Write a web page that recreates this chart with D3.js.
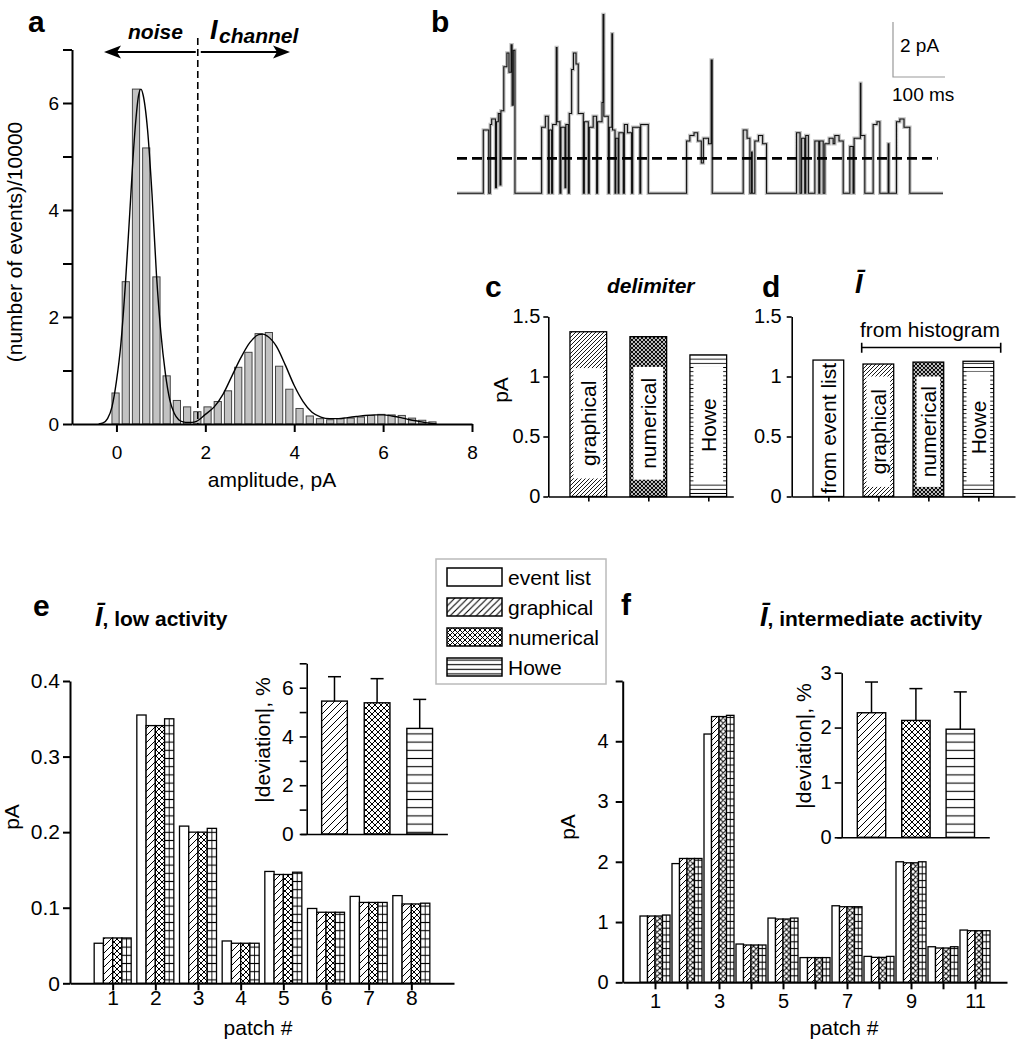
<!DOCTYPE html>
<html><head><meta charset="utf-8">
<script src="https://cdn.jsdelivr.net/npm/d3@7"></script>
<style>body{margin:0;background:#fff} svg{display:block}</style>
</head><body>
<script>
// ================= DATA =================
// panel a : amplitude histogram
const histFirstCenter = -0.02;      // pA, centre of first bin
const histBinWidth = 0.23;          // pA
const histCounts = [0.58,2.66,6.26,5.16,2.75,0.90,0.44,0.32,0.23,0.32,0.42,0.62,1.06,1.34,1.69,1.71,1.08,0.65,0.29,0.15,0.10,0.08,0.10,0.11,0.13,0.16,0.18,0.17,0.16,0.11,0.07,0.04];
const fitAmp = [-0.4,-0.3,-0.2,-0.1,0.0,0.1,0.2,0.3,0.4,0.5,0.55,0.6,0.7,0.8,0.9,1.0,1.1,1.2,1.3,1.4,1.5,1.6,1.7,1.8,2.0,2.2,2.4,2.6,2.8,3.0,3.2,3.3,3.4,3.6,3.8,4.0,4.2,4.4,4.6,4.8,5.0,5.2,5.4,5.6,5.8,6.0,6.2,6.4,6.6,6.8,7.0,7.2];
const fitVal = [0,0.02,0.1,0.32,0.8,1.5,2.6,3.95,5.3,6.15,6.26,6.15,5.5,4.3,2.8,1.7,0.95,0.45,0.2,0.08,0.04,0.03,0.03,0.05,0.18,0.32,0.56,0.9,1.24,1.52,1.67,1.68,1.64,1.45,1.1,0.72,0.42,0.22,0.13,0.1,0.1,0.12,0.14,0.16,0.17,0.17,0.15,0.12,0.08,0.05,0.02,0];
const delimiterA = 1.83;
const aXTicks = [0,2,4,6,8];
const aYTicks = [0,1,2,3,4,5,6,7];

// panel b : current trace, [time ms, current pA] steps
const traceSteps = [[0,0],[50.6,2.3],[61,0],[64,2.5],[66.7,2.7],[74,0.2],[76,2.6],[79.5,2.9],[82.7,0.3],[84.5,3.0],[90,4.6],[96,5.1],[100,4.4],[104,5.4],[106,3.2],[108.3,5.2],[111.5,0],
[162.8,2.4],[170,2.8],[175.6,0],[177.5,2.3],[182,0],[184,2.5],[191,5.3],[192.5,2.6],[198,0],[200,2.4],[207.7,0.2],[209.5,2.5],[214.1,0],[216,2.9],[220.5,4.5],[224,5.1],[229,4.7],[233.3,2.9],[243,0],[245,2.6],[252.6,0],[254.5,2.4],[262,2.8],[268.6,0],[270.5,2.6],[279,3.3],[281,6.5],[282.5,2.8],[291,0],[293,2.4],[298,5.8],[299.3,2.3],[304,0],[305.5,2.0],[310,0],[311.5,2.2],[319.9,0],[322,2.5],[328,2.2],[335.9,0],[338,2.4],[351.9,0],[353.5,2.5],[368,0],
[441.7,1.9],[448,2.1],[456,2.2],[463,1.9],[470,1.1],[474,2.0],[484,1.8],[489,4.85],[491,0],
[550.6,2.3],[558,2.0],[563.5,0],[566.7,1.5],[568,0],[573,1.9],[580,2.1],[588,1.8],[595.5,0],
[653.2,2.2],[660,0],[663,2.0],[669,0],[671,2.1],[676,0],[688.5,1.9],[696,0],[698,1.9],[704.5,0],[707.7,1.8],[716,2.0],[723.7,1.8],[726.9,2.1],[735,1.9],[743,0],[755.8,1.7],[762,0],[764,2.0],[776,4.0],[777,2.1],[784.6,0],[800.6,2.5],[808,2.6],[813.5,0],[829.5,1.8],[831,0],[845.5,2.6],[852,2.7],[860,2.4],[871.2,0],[935,0]];
const traceDelimiter = 1.27;   // pA
const scaleBarPA = 2, scaleBarMS = 100;

// panel c
const cMethods = ["graphical","numerical","Howe"];
const cValues = [1.373,1.332,1.18];
// panel d
const dMethods = ["from event list","graphical","numerical","Howe"];
const dValues = [1.137,1.104,1.12,1.127];
const cdYTicks = [0,0.5,1,1.5];

// legend
const legendLabels = ["event list","graphical","numerical","Howe"];

// panel e : low activity
const ePatches = [1,2,3,4,5,6,7,8];
const eEventList = [0.053,0.355,0.208,0.056,0.148,0.099,0.115,0.116];
const eGraphical = [0.060,0.341,0.200,0.053,0.144,0.094,0.107,0.105];
const eNumerical = [0.060,0.341,0.200,0.053,0.144,0.094,0.107,0.105];
const eHowe      = [0.060,0.350,0.205,0.053,0.147,0.094,0.107,0.106];
const eYTicks = [0,0.1,0.2,0.3,0.4];
const eInsetMean = [5.45,5.38,4.33];
const eInsetSD   = [1.00,0.99,1.19];
const eInsetTicks = [0,1,2,3,4,5,6,7];

// panel f : intermediate activity
const fPatches = [1,2,3,4,5,6,7,8,9,10,11];
const fEventList = [1.10,1.97,4.12,0.635,1.066,0.41,1.27,0.43,2.00,0.59,0.867];
const fGraphical = [1.10,2.055,4.41,0.619,1.05,0.41,1.254,0.414,1.983,0.569,0.856];
const fNumerical = [1.10,2.055,4.41,0.619,1.05,0.41,1.254,0.414,1.983,0.569,0.856];
const fHowe      = [1.116,2.055,4.43,0.619,1.066,0.41,1.254,0.43,2.00,0.59,0.856];
const fYTicks = [0,1,2,3,4,5];
const fXLabels = [1,3,5,7,9,11];
const fInsetMean = [2.27,2.13,1.97];
const fInsetSD   = [0.56,0.58,0.68];
const fInsetTicks = [0,1,2,3];

// ================= DRAWING =================
const FONT = "'Liberation Sans', Arial, Helvetica, sans-serif";
const svg = d3.select("body").append("svg").attr("width",1027).attr("height",1050)
  .style("font-family",FONT);
svg.append("rect").attr("width",1027).attr("height",1050).attr("fill","#fff");
const defs = svg.append("defs");

function pat(id,w,h,d,sw){
  const p = defs.append("pattern").attr("id",id).attr("patternUnits","userSpaceOnUse").attr("width",w).attr("height",h);
  p.append("rect").attr("width",w).attr("height",h).attr("fill","#fff");
  p.append("path").attr("d",d).attr("stroke","#000").attr("stroke-width",sw).attr("fill","none");
}
function diagD(s){return `M${-s/4},${s/4}L${s/4},${-s/4}M0,${s}L${s},0M${s*3/4},${s*5/4}L${s*5/4},${s*3/4}`;}
function antiD(s){return `M${-s/4},${s*3/4}L${s/4},${s*5/4}M0,0L${s},${s}M${s*3/4},${-s/4}L${s*5/4},${s/4}`;}
function diag(id,s,sw){pat(id,s,s,diagD(s),sw);}
function cross(id,s,sw){pat(id,s,s,diagD(s)+antiD(s),sw);}
function horiz(id,s,sw){pat(id,10,s,`M0,${s/2}H10`,sw);}
diag("dg7",7,1); cross("cr6",6,1); horiz("hz8",8.2,1.1);
diag("dg6",6,1); cross("cr5",5.5,1); horiz("hz7",6.8,1.1);
diag("dg4",4,0.9); cross("cr3",4,1.05); horiz("hz4",4.2,0.9);
diag("dgL",6.5,1.1); cross("crL",5,1); horiz("hzL",4.6,1.1);

function styleAxis(g,fs,sw){
  g.attr("font-family",FONT).attr("font-size",fs);
  g.select(".domain").attr("stroke","#000").attr("stroke-width",sw);
  g.selectAll(".tick line").attr("stroke","#000").attr("stroke-width",sw);
  g.selectAll(".tick text").attr("fill","#000");
}
function txt(x,y,s,fs,opt={}){
  const t = svg.append("text").attr("x",x).attr("y",y).attr("font-size",fs).attr("fill","#000").text(s);
  if(opt.bold) t.attr("font-weight","bold");
  if(opt.italic) t.attr("font-style","italic");
  if(opt.anchor) t.attr("text-anchor",opt.anchor);
  return t;
}
function vtxt(x,y,s,fs){
  return svg.append("text").attr("transform",`translate(${x},${y}) rotate(-90)`).attr("text-anchor","middle")
    .attr("font-size",fs).attr("fill","#000").text(s);
}

// ---------- panel a ----------
const xA = d3.scaleLinear().domain([-1,8]).range([72,472]);
const yA = d3.scaleLinear().domain([0,7]).range([424,49.5]);
const gA = svg.append("g");
gA.selectAll("rect").data(histCounts).join("rect")
  .attr("x",(d,i)=>xA(histFirstCenter+i*histBinWidth)-3.6).attr("width",7.2)
  .attr("y",d=>yA(d)).attr("height",d=>yA(0)-yA(d))
  .attr("fill","#c2c2c2").attr("stroke","#444").attr("stroke-width",1);
gA.append("path").datum(fitAmp.map((a,i)=>[a,fitVal[i]]))
  .attr("d",d3.line().x(d=>xA(d[0])).y(d=>yA(d[1])).curve(d3.curveMonotoneX))
  .attr("fill","none").attr("stroke","#000").attr("stroke-width",1.4);
gA.append("line").attr("x1",xA(delimiterA)).attr("x2",xA(delimiterA)).attr("y1",38).attr("y2",yA(0))
  .attr("stroke","#000").attr("stroke-width",1.6).attr("stroke-dasharray","7,4");
const axAy = svg.append("g").attr("transform","translate(72,0)")
  .call(d3.axisLeft(yA).tickValues(aYTicks).tickFormat(d=>d%2?"":d).tickSize(9).tickSizeOuter(0).tickPadding(4));
styleAxis(axAy,19,2);
const axAx = svg.append("g").attr("transform",`translate(0,${yA(0)})`)
  .call(d3.axisBottom(xA).tickValues(aXTicks).tickSize(8).tickSizeOuter(0).tickPadding(14));
styleAxis(axAx,19,2);
// arrows
gA.append("line").attr("x1",xA(delimiterA)-2).attr("x2",113).attr("y1",52).attr("y2",52).attr("stroke","#000").attr("stroke-width",2);
gA.append("path").attr("d","M104,52 L121,45.5 L117,52 L121,58.5 Z").attr("fill","#000");
gA.append("line").attr("x1",xA(delimiterA)+3).attr("x2",281).attr("y1",52).attr("y2",52).attr("stroke","#000").attr("stroke-width",2);
gA.append("path").attr("d","M290,52 L273,45.5 L277,52 L273,58.5 Z").attr("fill","#000");
txt(128,39,"noise",21,{bold:true,italic:true});
txt(210,39,"I",27,{bold:true,italic:true});
txt(219,43,"channel",21,{bold:true,italic:true});
txt(28,32,"a",30,{bold:true});
txt(272,487,"amplitude, pA",21,{anchor:"middle"});
vtxt(22,242,"(number of events)/10000",21);

// ---------- panel b ----------
const xB = d3.scaleLinear().domain([0,935]).range([457,943]);
const yB = d3.scaleLinear().domain([0,2]).range([193.3,138.3]);
const lineB = d3.line().x(d=>xB(d[0])).y(d=>yB(d[1])).curve(d3.curveStepAfter);
svg.append("path").datum(traceSteps).attr("d",lineB).attr("fill","none")
  .attr("stroke","#777").attr("stroke-width",3.5).attr("stroke-opacity",0.45);
svg.append("path").datum(traceSteps).attr("d",lineB).attr("fill","none")
  .attr("stroke","#111").attr("stroke-width",1.1);
svg.append("line").attr("x1",xB(0)).attr("x2",xB(925)).attr("y1",yB(traceDelimiter)).attr("y2",yB(traceDelimiter))
  .attr("stroke","#000").attr("stroke-width",2.6).attr("stroke-dasharray","10,5");
const sbx = 893, sby = 77;
svg.append("path").attr("d",`M${sbx},${sby-(yB(0)-yB(scaleBarPA))} V${sby} H${sbx+(xB(scaleBarMS)-xB(0))}`)
  .attr("fill","none").attr("stroke","#999").attr("stroke-width",1.2);
txt(900,52,"2 pA",19);
txt(892,101,"100 ms",19);
txt(431,32,"b",30,{bold:true});

// ---------- panel c ----------
const yC = d3.scaleLinear().domain([0,1.5]).range([496.5,316.5]);
const xC = d3.scaleLinear().domain([-0.667,2.417]).range([548.3,733.3]);
const cFill = ["url(#dg4)","url(#cr3)","url(#hz4)"];
const cBoxTop = [1.07,1.08,1.08], cBoxBot=[0.15,0.14,0.11];
cValues.forEach((v,i)=>{
  const cx = xC(i), w = 36.7;
  svg.append("rect").attr("x",cx-w/2).attr("y",yC(v)).attr("width",w).attr("height",yC(0)-yC(v))
    .attr("fill",cFill[i]).attr("stroke","#000").attr("stroke-width",1.3);
  svg.append("rect").attr("x",cx-w/2+3.5).attr("y",yC(cBoxTop[i])).attr("width",w-7).attr("height",yC(cBoxBot[i])-yC(cBoxTop[i]))
    .attr("fill","#fff");
  svg.append("text").attr("transform",`translate(${cx},${(yC(cBoxTop[i])+yC(cBoxBot[i]))/2}) rotate(-90)`)
    .attr("text-anchor","middle").attr("dominant-baseline","central").attr("font-size",21).text(cMethods[i]);
});
const axCy = svg.append("g").attr("transform","translate(548.3,0)")
  .call(d3.axisLeft(yC).tickValues(cdYTicks).tickFormat(d3.format("")).tickSize(5).tickSizeOuter(0).tickPadding(3));
styleAxis(axCy,20,1.6);
const axCx = svg.append("g").attr("transform",`translate(0,${yC(0)})`)
  .call(d3.axisBottom(xC).tickValues([0,1,2]).tickFormat("").tickSize(5).tickSizeOuter(0));
styleAxis(axCx,20,1.6);
txt(485,297,"c",30,{bold:true});
txt(607,293,"delimiter",21,{bold:true,italic:true});
vtxt(508,390,"pA",21);

// ---------- panel d ----------
const yD = d3.scaleLinear().domain([0,1.5]).range([496.5,316.5]);
const xD = d3.scaleLinear().domain([-0.733,3.733]).range([791.7,1015]);
const dFill = ["#fff","url(#dg4)","url(#cr3)","url(#hz4)"];
const dBoxTop = [null,1.0,1.0,1.04], dBoxBot=[null,0.08,0.08,0.11];
dValues.forEach((v,i)=>{
  const cx = xD(i), w = 30.7;
  svg.append("rect").attr("x",cx-w/2).attr("y",yD(v)).attr("width",w).attr("height",yD(0)-yD(v))
    .attr("fill",dFill[i]).attr("stroke","#000").attr("stroke-width",1.3);
  let cy = (yD(v)+yD(0))/2;
  if(dBoxTop[i]!==null){
    svg.append("rect").attr("x",cx-w/2+3.5).attr("y",yD(dBoxTop[i])).attr("width",w-7).attr("height",yD(dBoxBot[i])-yD(dBoxTop[i]))
      .attr("fill","#fff");
    cy = (yD(dBoxTop[i])+yD(dBoxBot[i]))/2;
  }
  svg.append("text").attr("transform",`translate(${cx},${cy}) rotate(-90)`)
    .attr("text-anchor","middle").attr("dominant-baseline","central").attr("font-size",21).text(dMethods[i]);
});
const axDy = svg.append("g").attr("transform","translate(791.7,0)")
  .call(d3.axisLeft(yD).tickValues(cdYTicks).tickFormat(d3.format("")).tickSize(5).tickSizeOuter(0).tickPadding(5));
styleAxis(axDy,20,1.6);
const axDx = svg.append("g").attr("transform",`translate(0,${yD(0)})`)
  .call(d3.axisBottom(xD).tickValues([0,1,2,3]).tickFormat("").tickSize(5).tickSizeOuter(0));
styleAxis(axDx,20,1.6);
txt(762,297,"d",30,{bold:true});
txt(855,293,"Ī",27,{bold:true,italic:true});
txt(860,337,"from histogram",21);
svg.append("path").attr("d",`M${xD(0.667)},342.7 V352.7 M${xD(0.667)},347.5 H${xD(3.447)} M${xD(3.447)},342.7 V352.7`)
  .attr("fill","none").attr("stroke","#000").attr("stroke-width",1.6);

// ---------- legend ----------
svg.append("rect").attr("x",436).attr("y",559).attr("width",170).attr("height",125)
  .attr("fill","#fff").attr("stroke","#bbb").attr("stroke-width",1.5);
const legFill = ["#fff","url(#dgL)","url(#crL)","url(#hzL)"];
legendLabels.forEach((l,i)=>{
  const cy = 577+i*30;
  svg.append("rect").attr("x",447).attr("y",cy-9).attr("width",55).attr("height",18)
    .attr("fill",legFill[i]).attr("stroke","#000").attr("stroke-width",1.5);
  svg.append("text").attr("x",508).attr("y",cy).attr("dominant-baseline","central").attr("font-size",21).text(l);
});

// ---------- grouped bar helper ----------
function groupBars(xs, ys, patches, series, fills, bw, howeIdx){
  patches.forEach((p,j)=>{
    series.forEach((s,k)=>{
      const x0 = xs(p) + (k-2)*bw;
      const v = s[j];
      svg.append("rect").attr("x",x0).attr("y",ys(v)).attr("width",bw).attr("height",ys(0)-ys(v))
        .attr("fill",fills[k]).attr("stroke","#000").attr("stroke-width",1.3);
      if(k===howeIdx){
        svg.append("line").attr("x1",x0+bw/2).attr("x2",x0+bw/2).attr("y1",ys(v)).attr("y2",ys(0))
          .attr("stroke","#000").attr("stroke-width",0.9);
      }
    });
  });
}
function insetBars(xs, ys, means, sds, fills, bw, capW){
  means.forEach((m,i)=>{
    const cx = xs(i);
    svg.append("line").attr("x1",cx).attr("x2",cx).attr("y1",ys(m)).attr("y2",ys(m+sds[i])).attr("stroke","#000").attr("stroke-width",1.5);
    svg.append("line").attr("x1",cx-capW/2).attr("x2",cx+capW/2).attr("y1",ys(m+sds[i])).attr("y2",ys(m+sds[i])).attr("stroke","#000").attr("stroke-width",1.5);
    svg.append("rect").attr("x",cx-bw/2).attr("y",ys(m)).attr("width",bw).attr("height",ys(0)-ys(m))
      .attr("fill",fills[i]).attr("stroke","#000").attr("stroke-width",1.4);
  });
}

// ---------- panel e ----------
const xE = d3.scaleLinear().domain([0,9]).range([70,454]);
const yE = d3.scaleLinear().domain([0,0.4]).range([983.3,681]);
groupBars(xE,yE,ePatches,[eEventList,eGraphical,eNumerical,eHowe],["#fff","url(#dg7)","url(#cr6)","url(#hz8)"],9.25,3);
const axEy = svg.append("g").attr("transform","translate(70,0)")
  .call(d3.axisLeft(yE).tickValues(eYTicks).tickFormat(d3.format("")).tickSize(7).tickSizeOuter(0).tickPadding(3));
styleAxis(axEy,21,2);
const axEx = svg.append("g").attr("transform",`translate(0,${yE(0)})`)
  .call(d3.axisBottom(xE).tickValues(ePatches).tickSize(7).tickSizeOuter(0).tickPadding(0));
styleAxis(axEx,21,2);
txt(258,1035,"patch #",21,{anchor:"middle"});
vtxt(19,817,"pA",21);
txt(33,616,"e",30,{bold:true});
{
  const t = svg.append("text").attr("x",95).attr("y",626).attr("font-weight","bold");
  t.append("tspan").attr("font-size",27).attr("font-style","italic").text("Ī");
  t.append("tspan").attr("font-size",21).text(", low activity");
}
// inset e
const xEi = d3.scaleLinear().domain([-0.8,2.65]).range([300.4,447.4]);
const yEi = d3.scaleLinear().domain([0,7]).range([834,663.3]);
insetBars(xEi,yEi,eInsetMean,eInsetSD,["url(#dg7)","url(#cr6)","url(#hz8)"],25.7,13);
const axEiy = svg.append("g").attr("transform","translate(306.7,0)")
  .call(d3.axisLeft(yEi).tickValues(eInsetTicks).tickFormat(d=>d%2?"":d).tickSize(7).tickSizeOuter(0).tickPadding(6));
styleAxis(axEiy,21,1.6);
const axEix = svg.append("g").attr("transform",`translate(0,${yEi(0)})`)
  .call(d3.axisBottom(xEi).tickValues([]).tickSizeOuter(0));
styleAxis(axEix,21,1.6);
vtxt(270,740,"|deviation|, %",21);

// ---------- panel f ----------
const xF = d3.scaleLinear().domain([0,12]).range([623,1007]);
const yF = d3.scaleLinear().domain([0,5]).range([982.3,681]);
groupBars(xF,yF,fPatches,[fEventList,fGraphical,fNumerical,fHowe],["#fff","url(#dg6)","url(#cr5)","url(#hz7)"],7.5,3);
const axFy = svg.append("g").attr("transform","translate(622.7,0)")
  .call(d3.axisLeft(yF).tickValues(fYTicks).tickFormat(d=>d===5?"":d).tickSize(7).tickSizeOuter(0).tickPadding(7));
styleAxis(axFy,20,2);
const axFx = svg.append("g").attr("transform",`translate(0,${yF(0)})`)
  .call(d3.axisBottom(xF).tickValues(fPatches).tickFormat(d=>fXLabels.includes(d)?d:"").tickSize(7).tickSizeOuter(0).tickPadding(5));
styleAxis(axFx,20,2);
txt(844,1035,"patch #",21,{anchor:"middle"});
vtxt(575,827,"pA",21);
txt(621,615,"f",30,{bold:true});
{
  const t = svg.append("text").attr("x",760).attr("y",626).attr("font-weight","bold");
  t.append("tspan").attr("font-size",27).attr("font-style","italic").text("Ī");
  t.append("tspan").attr("font-size",21).text(", intermediate activity");
}
// inset f
const xFi = d3.scaleLinear().domain([-0.784,2.653]).range([836.7,989.3]);
const yFi = d3.scaleLinear().domain([0,3]).range([837.3,672.7]);
insetBars(xFi,yFi,fInsetMean,fInsetSD,["url(#dg7)","url(#cr6)","url(#hz8)"],28.4,13);
const axFiy = svg.append("g").attr("transform","translate(841.7,0)")
  .call(d3.axisLeft(yFi).tickValues(fInsetTicks).tickFormat(d3.format("")).tickSize(7).tickSizeOuter(0).tickPadding(3));
styleAxis(axFiy,20,1.6);
const axFix = svg.append("g").attr("transform",`translate(0,${yFi(0)})`)
  .call(d3.axisBottom(xFi).tickValues([]).tickSizeOuter(0));
styleAxis(axFix,20,1.6);
vtxt(811,746,"|deviation|, %",21);
</script>
</body></html>
